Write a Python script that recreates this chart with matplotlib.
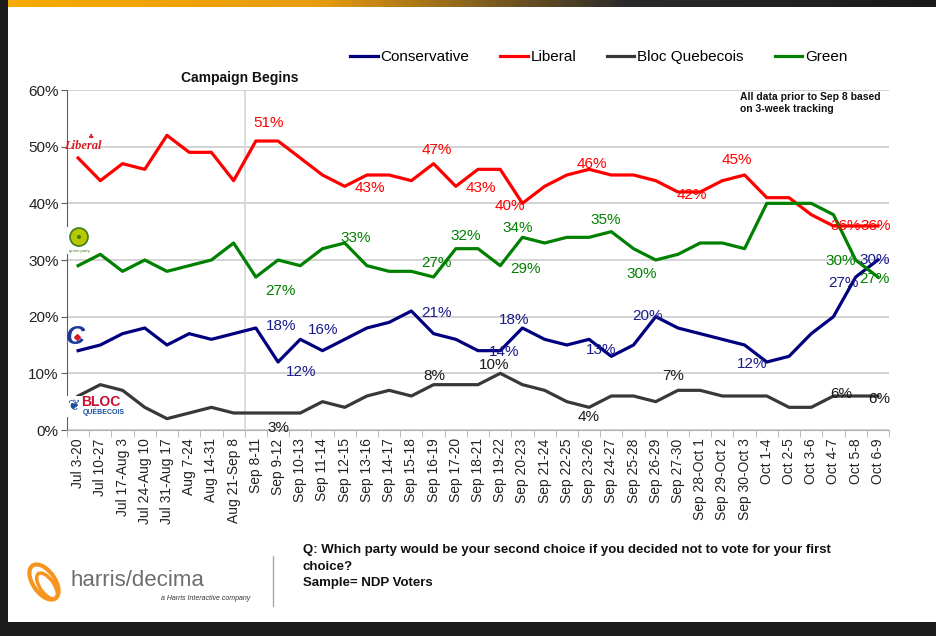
import numpy as np
import matplotlib
matplotlib.use("Agg")
import matplotlib.pyplot as plt
from matplotlib.patches import Rectangle, Ellipse, Circle
from matplotlib.colors import LinearSegmentedColormap

plt.rcParams['font.family'] = ['Liberation Sans', 'DejaVu Sans']

# tracking periods
periods = ["Jul 3-20", "Jul 10-27", "Jul 17-Aug 3", "Jul 24-Aug 10", "Jul 31-Aug 17",
           "Aug 7-24", "Aug 14-31", "Aug 21-Sep 8", "Sep 8-11", "Sep 9-12", "Sep 10-13",
           "Sep 11-14", "Sep 12-15", "Sep 13-16", "Sep 14-17", "Sep 15-18", "Sep 16-19",
           "Sep 17-20", "Sep 18-21", "Sep 19-22", "Sep 20-23", "Sep 21-24", "Sep 22-25",
           "Sep 23-26", "Sep 24-27", "Sep 25-28", "Sep 26-29", "Sep 27-30", "Sep 28-Oct 1",
           "Sep 29-Oct 2", "Sep 30-Oct 3", "Oct 1-4", "Oct 2-5", "Oct 3-6", "Oct 4-7",
           "Oct 5-8", "Oct 6-9"]

conservative = [14, 15, 17, 18, 15, 17, 16, 17, 18, 12, 16, 14, 16, 18, 19, 21, 17, 16, 14,
                14, 18, 16, 15, 16, 13, 15, 20, 18, 17, 16, 15, 12, 13, 17, 20, 27, 30]
liberal = [48, 44, 47, 46, 52, 49, 49, 44, 51, 51, 48, 45, 43, 45, 45, 44, 47, 43, 46,
           46, 40, 43, 45, 46, 45, 45, 44, 42, 42, 44, 45, 41, 41, 38, 36, 36, 36]
bloc = [6, 8, 7, 4, 2, 3, 4, 3, 3, 3, 3, 5, 4, 6, 7, 6, 8, 8, 8,
        10, 8, 7, 5, 4, 6, 6, 5, 7, 7, 6, 6, 6, 4, 4, 6, 6, 6]
green = [29, 31, 28, 30, 28, 29, 30, 33, 27, 30, 29, 32, 33, 29, 28, 28, 27, 32, 32,
         29, 34, 33, 34, 34, 35, 32, 30, 31, 33, 33, 32, 40, 40, 40, 38, 30, 27]

y_ticks = [0, 10, 20, 30, 40, 50, 60]

# which points carry a value label, with (dx, dy) pixel offsets
lib_labels = {8: (13, 18), 12: (25, -2), 16: (3, 14), 17: (25, -2), 20: (-13, -3),
              23: (3, 5), 27: (14, -3), 30: (-8, 15), 34: (12, 0), 36: (-2, 0)}
con_labels = {8: (25, 2), 9: (23, -10), 10: (23, 9), 15: (25, -2), 19: (4, -1),
              20: (-8, 8), 24: (-10, 6), 26: (-8, 1), 31: (-15, -2), 35: (-12, -6),
              36: (-3, 0)}
grn_labels = {8: (25, -14), 12: (11, 5), 16: (3, 14), 17: (10, 13), 19: (25, -3),
              20: (-5, 9), 24: (-6, 12), 26: (-14, -14), 35: (-15, -1), 36: (-3, -2)}
blc_labels = {9: (0, -15), 16: (1, 9), 19: (-6, 8), 23: (0, -10), 27: (-5, 14),
              34: (8, 2), 36: (1, -3)}

W, H = 937, 636
fig = plt.figure(figsize=(W / 100, H / 100), dpi=100, facecolor='#1c1c1c')

# slide background
bg = fig.add_axes([0, 0, 1, 1], zorder=-1)
bg.set_xlim(0, W)
bg.set_ylim(H, 0)
bg.axis('off')
bg.add_patch(Rectangle((8, 7), W - 8, 615, facecolor='white', edgecolor='none'))
cmap = LinearSegmentedColormap.from_list('bar', ['#f7aa00', '#e89c10', '#2a2a2a', '#1a1a1a'])
bg.imshow(np.linspace(0, 1, 200)[None, :], cmap=cmap, extent=[8, W, 7, 0], aspect='auto')

ax = fig.add_axes([67 / W, 1 - 430 / H, 822 / W, 340 / H])
x = np.arange(len(periods))
ax.axvline(7.5, color='#d4d4d4', lw=1.2, zorder=1)
l_con, = ax.plot(x, conservative, color='#00007f', lw=2.3, label='Conservative', zorder=3)
l_lib, = ax.plot(x, liberal, color='#ff0000', lw=2.3, label='Liberal', zorder=3)
l_blc, = ax.plot(x, bloc, color='#383838', lw=2.3, label='Bloc Quebecois', zorder=3)
l_grn, = ax.plot(x, green, color='#008000', lw=2.3, label='Green', zorder=3)

for vals, labs, col in [(liberal, lib_labels, '#ff0000'), (conservative, con_labels, '#1a1a8c'),
                        (green, grn_labels, '#008000'), (bloc, blc_labels, '#1a1a1a')]:
    for i, (dx, dy) in labs.items():
        ax.annotate(f"{vals[i]}%", (x[i], vals[i]), xytext=(dx, dy), textcoords='offset pixels',
                    ha='center', va='center', color=col, fontsize=11, zorder=4)

ax.set_xlim(-0.5, len(periods) - 0.5)
ax.set_ylim(0, 60)
ax.set_yticks(y_ticks)
ax.set_yticklabels([f"{v}%" for v in y_ticks], fontsize=11, color='#222222')
ax.yaxis.grid(True, color='#c8c8c8', lw=1.1)
ax.set_axisbelow(True)
ax.set_xticks(x)
ax.set_xticklabels(periods, rotation=90, fontsize=10, color='#222222')
ax.set_xticks(np.arange(len(periods) + 1) - 0.5, minor=True)
ax.tick_params(axis='x', which='major', length=0, pad=6)
ax.tick_params(axis='x', which='minor', length=5, color='#b0b0b0')
ax.tick_params(axis='y', length=4, pad=2, color='#606060')
for s in ['top', 'right']:
    ax.spines[s].set_visible(False)
ax.spines['left'].set_color('#606060')
ax.spines['bottom'].set_color('#b0b0b0')

ax.legend(handles=[l_con, l_lib, l_blc, l_grn], ncol=4, loc='center',
          bbox_to_anchor=(0.639, 1 - 57 / H), bbox_transform=fig.transFigure,
          frameon=False, fontsize=11, handlelength=1.8, handletextpad=0.2, columnspacing=2.0)

# overlay for notes and logos
top = fig.add_axes([0, 0, 1, 1], zorder=5)
top.set_xlim(0, W)
top.set_ylim(H, 0)
top.axis('off')
top.patch.set_alpha(0)

top.text(240, 78, "Campaign Begins", fontsize=10, fontweight='bold', ha='center', va='center',
         color='#111111')
top.text(740, 103, "All data prior to Sep 8 based\non 3-week tracking", fontsize=7.5,
         fontweight='bold', ha='left', va='center', linespacing=1.35, color='#111111')

# party logos
top.add_patch(Rectangle((68, 134), 30, 20, facecolor='white', edgecolor='none'))
top.text(83, 146, "Liberal", fontsize=9, fontstyle='italic', fontweight='bold', color='#d71920',
         ha='center', va='center', family=['Liberation Serif', 'DejaVu Serif'])
top.text(90, 137, "\u2663", fontsize=5, color='#d71920', ha='center', va='center',
         family=['DejaVu Sans'])
top.add_patch(Rectangle((67, 227), 26, 27, facecolor='white', edgecolor='none'))
top.add_patch(Circle((79, 237), 9, facecolor='#b8c800', edgecolor='#3a7d1a', lw=1.2))
top.add_patch(Circle((79, 237), 2, facecolor='#3a7d1a', edgecolor='none'))
top.text(79, 251, "green party", fontsize=3, color='#3a7d1a', ha='center', va='center')
top.text(75, 337, "C", fontsize=19, fontstyle='italic', fontweight='bold', color='#1a3a9e',
         ha='center', va='center')
top.plot([77], [337], marker='D', ms=3, color='#d71920')
top.add_patch(Rectangle((66, 396), 54, 21, facecolor='white', edgecolor='none'))
top.text(73, 406, "\u2766", fontsize=11, color='#1a4fa0', ha='center', va='center',
         family=['DejaVu Sans'])
top.text(81, 402, "BLOC", fontsize=10, fontweight='bold', color='#c8102e', ha='left', va='center')
top.text(83, 412, "QUÉBECOIS", fontsize=5, fontweight='bold', color='#1a4fa0', ha='left',
         va='center')

# footer
top.add_patch(Ellipse((44, 582), 22, 40, angle=-35, facecolor='none', edgecolor='#f7941d', lw=3))
top.add_patch(Ellipse((47, 586), 14, 30, angle=-35, facecolor='none', edgecolor='#f7941d', lw=2.5))
top.text(71, 580, "harris/decima", fontsize=16, color='#6d6e71', ha='left', va='center')
top.text(250, 598, "a Harris Interactive company", fontsize=5, fontstyle='italic', color='#333333',
         ha='right', va='center')
top.plot([273, 273], [556, 606], color='#aaaaaa', lw=1)
top.text(303, 544, "Q: Which party would be your second choice if you decided not to vote for your first\nchoice?\nSample= NDP Voters",
         fontsize=9.5, fontweight='bold', ha='left', va='top', linespacing=1.5, color='#111111')

fig.savefig("out.png", dpi=100, facecolor=fig.get_facecolor())
